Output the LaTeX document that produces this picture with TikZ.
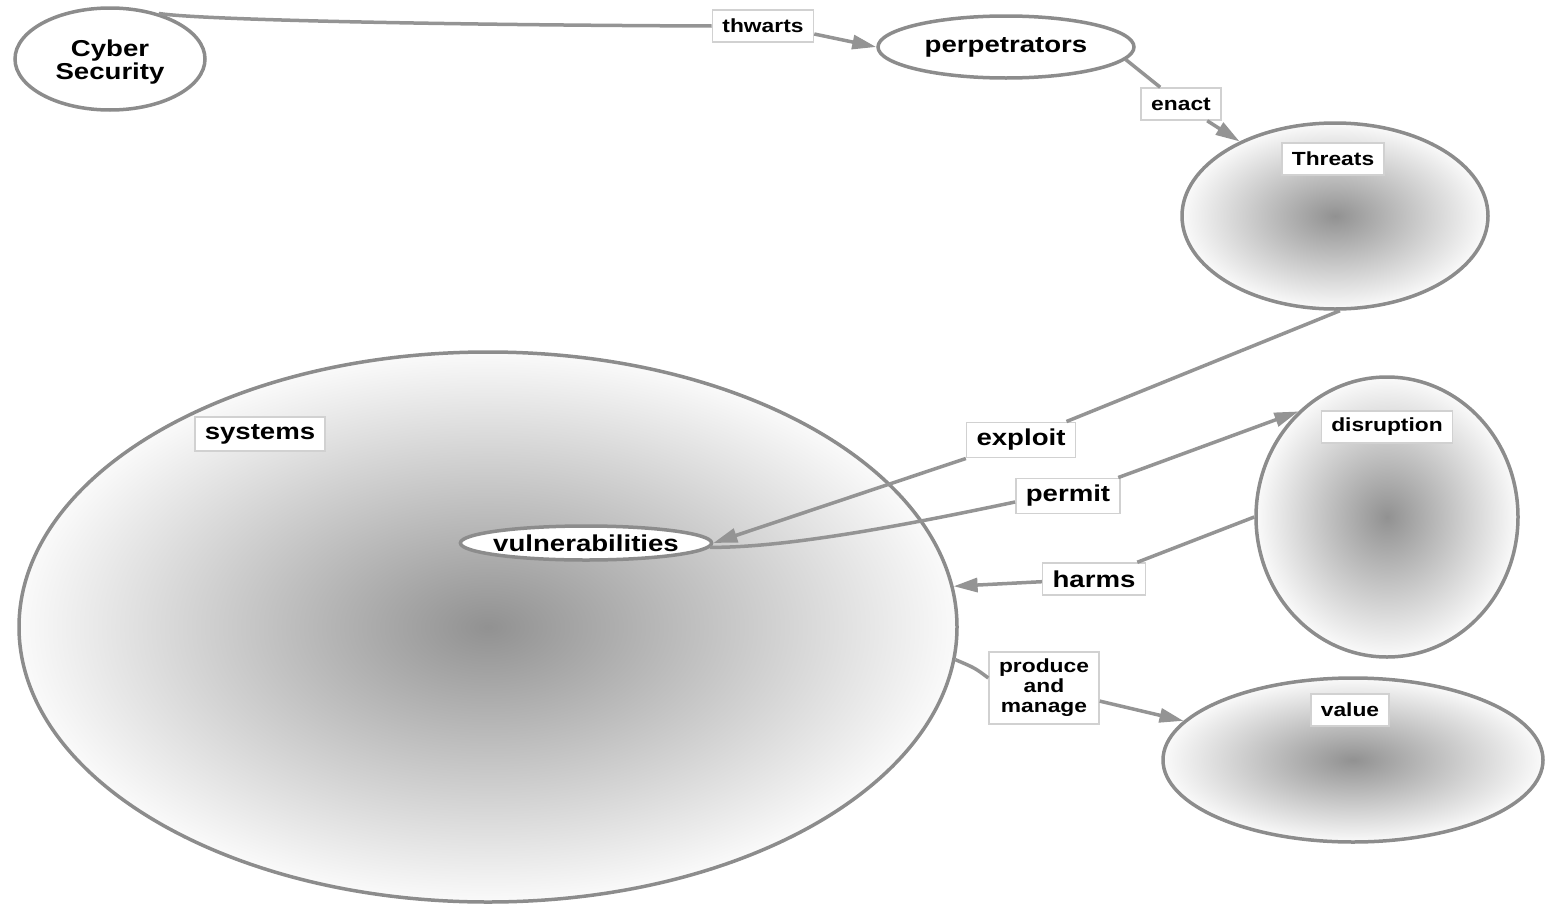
\documentclass[tikz,border=0pt]{standalone}
\usepackage{fontspec}
\setmainfont{Liberation Sans}[FakeStretch=1.2]
\usetikzlibrary{shapes.geometric,arrows.meta}

% soft grey centre fading to near white at the rim
\pgfdeclareradialshading{haze}{\pgfpoint{0bp}{0bp}}{%
  color(0bp)=(black!43); color(25bp)=(black!2); color(50bp)=(black!2)}

\tikzset{
  outline/.style={draw=black!45, line width=3.5pt},
  blob/.style={ellipse, outline, shade, shading=haze, inner sep=0pt},
  plain/.style={ellipse, outline, fill=white, inner sep=0pt},
  bigtext/.style={font=\fontsize{23}{20}\selectfont\bfseries},
  smalltext/.style={font=\fontsize{19}{20}\selectfont\bfseries},
  tag/.style={draw=black!18, line width=1.5pt, fill=white, inner xsep=10pt,
              inner ysep=7pt, minimum height=32pt, align=center},
  link/.style={draw=black!42, line width=3.5pt},
  tip/.style={-{Triangle[length=24pt,width=14pt]}}
}

\begin{document}
\begin{tikzpicture}[x=1pt, y=-1pt]
\useasboundingbox (0,0) rectangle (1545,905);

% clusters
\node[blob, minimum width=938pt, minimum height=550pt] (sys) at (488,627) {};
\node[blob, minimum width=306pt, minimum height=186pt] (thr) at (1335,216) {};
\node[blob, minimum width=262pt, minimum height=280pt] (dis) at (1387,517) {};
\node[blob, minimum width=380pt, minimum height=164pt] (val) at (1353,760) {};

\node[tag, bigtext]   (syslbl) at (260,434)  {systems};
\node[tag, smalltext] (thrlbl) at (1333,159) {Threats};
\node[tag, smalltext] (dislbl) at (1387,427) {disruption};
\node[tag, smalltext] (vallbl) at (1350,710) {value};

% plain concepts
\node[plain, bigtext, align=center, minimum width=190pt, minimum height=102pt]
  (cs) at (110,59) {};
\node[bigtext, align=center] (cstext) at (110,62) {Cyber\\Security};
\node[plain, bigtext, minimum width=256pt, minimum height=62pt]
  (perp) at (1006,47) {perpetrators};
\node[plain, bigtext, inner xsep=-4pt, minimum width=248pt, minimum height=34pt]
  (vuln) at (586,543) {vulnerabilities};

% relation labels
\node[tag, smalltext] (thw)     at (763,26)   {thwarts};
\node[tag, smalltext] (enact)   at (1181,104) {enact};
\node[tag, bigtext]   (exploit) at (1021,440) {exploit};
\node[tag, bigtext]   (permit)  at (1068,496) {permit};
\node[tag, bigtext]   (harms)   at (1094,579) {harms};
\node[tag, smalltext] (prod)    at (1044,688) {produce\\and\\manage};

% relations
\draw[link] (cs.43) .. controls (200,20) and (450,25) .. (thw.west);
\draw[link, tip] ([yshift=-8pt]thw.east) -- (perp.west);

\draw[link] (perp.-6) -- (enact);
\draw[link, tip] (enact) -- (thr.142);

\draw[link] (thr.-87) -- (exploit);
\draw[link, tip] (exploit) -- (vuln.east);

\draw[link] (vuln.-2) .. controls (790,548) and (920,522) .. ([yshift=-6pt]permit.west);
\draw[link, tip] (permit) -- (dis.130);

\draw[link] (dis.180) -- (harms);
\draw[link, tip] (harms) -- (sys.5);

\draw[link] (sys.-4) .. controls (975,668) .. ([yshift=10pt]prod.west);
\draw[link, tip] (prod) -- (val.167);
\end{tikzpicture}
\end{document}
